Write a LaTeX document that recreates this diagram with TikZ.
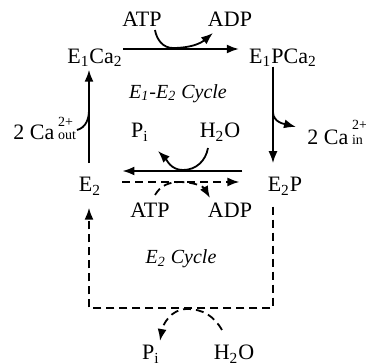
\documentclass[tikz,border=0pt]{standalone}
\usepackage{fontspec}
\setmainfont{Liberation Serif}
\usetikzlibrary{arrows.meta, positioning}

% stacked charge / side scripts after an ion
\newcommand{\ionscripts}[2]{{\fontsize{7}{7}\selectfont\shortstack[l]{#1\\#2}}}

\begin{document}
\begin{tikzpicture}[
    x=0.5pt, y=0.5pt,
    font=\fontsize{11}{13}\selectfont,
    species/.style={inner sep=0pt, anchor=base},
    cyclelbl/.style={species, font=\fontsize{10}{12}\selectfont\itshape},
    rxn/.style={line width=0.9pt, -{Latex[length=6pt, width=4.5pt]}},
    side/.style={line width=0.9pt},
    dsh/.style={dash pattern=on 4pt off 2.5pt}
]
\useasboundingbox (0,0) rectangle (366,-364);

% Columns of the two vertical legs
\coordinate (lft) at (89,0);
\coordinate (rgt) at (273,0);

% E1-E2 cycle
\node[species] (atp1) at (142,-26) {ATP};
\node[species] (adp1) at (230,-26) {ADP};
\node[species] (e1ca2) at (95,-63) {E\textsubscript{1}Ca\textsubscript{2}};
\node[species] (e1pca2) at (283,-63) {E\textsubscript{1}PCa\textsubscript{2}};
\node[cyclelbl] (cyc1) at (178,-98) {E\textsubscript{1}-E\textsubscript{2} Cycle};
\node[species, anchor=base west] (caout) at (13,-140) {2 Ca\,\ionscripts{2+}{out}};
\node[species, anchor=base west] (cain) at (307,-145) {2 Ca\,\ionscripts{2+}{in}};
\node[species] (pi1) at (140,-138) {P\textsubscript{i}};
\node[species] (h2o1) at (220,-138) {H\textsubscript{2}O};
\node[species] (e2) at (90,-192) {E\textsubscript{2}};
\node[species] (e2p) at (285,-192) {E\textsubscript{2}P};

\draw[rxn, shorten >=5pt] (e1ca2.east |- 0,-49) -- (e1pca2.west |- 0,-49);
\draw[rxn] ([shift={(13,-4)}]atp1.base) to[out=-80, in=180] (173,-48)
    to[out=0, in=-140] ([shift={(-17,-7)}]adp1.base);

\draw[rxn, shorten >=7pt] (e1pca2.south -| rgt) -- (e2p.north -| rgt);
\draw[rxn] (rgt |- 0,-112) to[out=-90, in=165] ([shift={(-11,18)}]cain.base west);

\draw[rxn, shorten <=12.5pt, shorten >=10.5pt] (e2p.west |- 0,-171) -- (e2.east |- 0,-171);
\draw[rxn] ([shift={(-12,-10)}]h2o1.base) to[out=-100, in=0] (183,-170)
    to[out=180, in=-45] ([shift={(18,-13)}]pi1.base);

\draw[rxn, shorten <=7pt, shorten >=1.5pt] (e2.north -| lft) -- (e1ca2.south -| lft);
\draw[side] ([shift={(64,10)}]caout.base west) to[out=15, in=-90] (lft |- 0,-110);

% E2 cycle
\node[species] (atp2) at (150,-218) {ATP};
\node[species] (adp2) at (230,-218) {ADP};
\node[cyclelbl] (cyc2) at (181,-264) {E\textsubscript{2} Cycle};
\node[species] (pi2) at (151,-360) {P\textsubscript{i}};
\node[species] (h2o2) at (234,-360) {H\textsubscript{2}O};

\draw[rxn, dsh, shorten <=10.5pt, shorten >=14pt] (e2.east |- 0,-182) -- (e2p.west |- 0,-182);
\draw[rxn, dsh] ([shift={(5,23)}]atp2.base) to[out=60, in=180] (180,-182)
    to[out=0, in=120] ([shift={(-20,20)}]adp2.base);

\draw[rxn, dsh, shorten <=5.5pt, shorten >=6pt] (e2p.south -| rgt) -- (rgt |- 0,-308)
    -- (lft |- 0,-308) -- (e2.south -| lft);
\draw[rxn, dsh] ([shift={(-12,30)}]h2o2.base) to[out=120, in=0] (187,-309)
    to[out=180, in=80] ([shift={(9,19)}]pi2.base);
\end{tikzpicture}
\end{document}
